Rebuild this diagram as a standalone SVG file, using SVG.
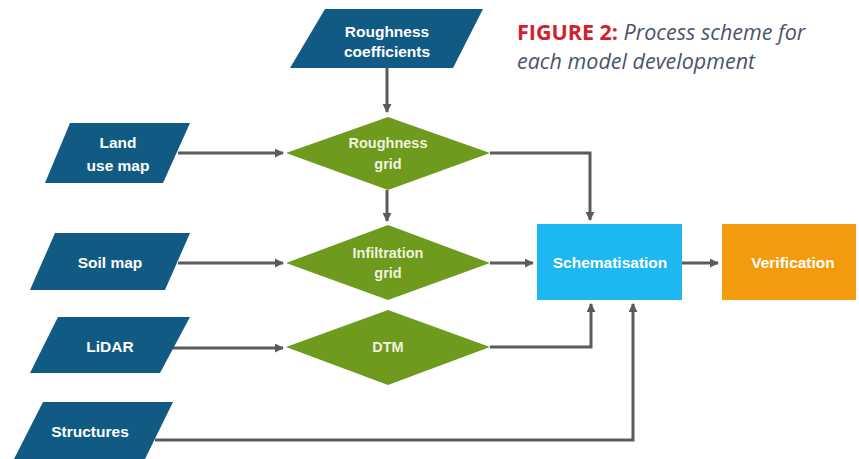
<svg xmlns="http://www.w3.org/2000/svg" width="859" height="459" viewBox="0 0 859 459">
<defs>
<marker id="ah" viewBox="0 0 10 10" refX="9" refY="5" markerWidth="3" markerHeight="3" orient="auto" markerUnits="strokeWidth">
<path d="M0,0 L10,5 L0,10 z" fill="#5b5b5b"/>
</marker>
<style>
.io{fill:#115a84}
.dec{fill:#6e9a1e}
.lbl{font-family:"Liberation Sans",Arial,sans-serif;font-weight:bold;font-size:15.5px;fill:#ffffff;text-anchor:middle}
.dl{font-family:"Liberation Sans",Arial,sans-serif;font-weight:bold;font-size:14.5px;fill:#eef3dc;text-anchor:middle}
.con{fill:none;stroke:#5b5b5b;stroke-width:3;marker-end:url(#ah)}
.cap{font-family:"Open Sans","Noto Sans",sans-serif;font-size:21.5px}
</style>
</defs>
<rect width="859" height="459" fill="#ffffff"/>
<g id="caption">
<text class="cap" x="517" y="40"><tspan fill="#d0222e" font-weight="bold">FIGURE 2:</tspan><tspan fill="#4a5568" font-style="italic"> Process scheme for</tspan></text>
<text class="cap" x="517" y="69" fill="#4a5568" font-style="italic">each model development</text>
</g>
<g id="connectors">
<path class="con" d="M387,68 V112"/>
<path class="con" d="M178,153 H283"/>
<path class="con" d="M387,190 V221"/>
<path class="con" d="M490,153 H590 V220"/>
<path class="con" d="M178,263 H283"/>
<path class="con" d="M490,263 H533"/>
<path class="con" d="M682,263 H718"/>
<path class="con" d="M173,348 H283"/>
<path class="con" d="M490,347 H591 V304"/>
<path class="con" d="M155,440 H633 V304"/>
</g>
<g id="roughness-coefficients">
<polygon class="io" points="325,9 483,9 453,68 290,68"/>
<text class="lbl" x="387" y="37">Roughness</text>
<text class="lbl" x="387" y="57">coefficients</text>
</g>
<g id="land-use-map">
<polygon class="io" points="70,123 190,123 163,183 45,183"/>
<text class="lbl" x="118" y="148">Land</text>
<text class="lbl" x="118" y="171">use map</text>
</g>
<g id="soil-map">
<polygon class="io" points="55,233 190,233 165,290 30,290"/>
<text class="lbl" x="110" y="268">Soil map</text>
</g>
<g id="lidar">
<polygon class="io" points="58,317 190,317 160,373 30,373"/>
<text class="lbl" x="110" y="352">LiDAR</text>
</g>
<g id="structures">
<polygon class="io" points="43,402 173,402 145,459 14,459"/>
<text class="lbl" x="90" y="437">Structures</text>
</g>
<g id="roughness-grid">
<polygon class="dec" points="388,117 490,153 388,190 286,153"/>
<text class="dl" x="388" y="148">Roughness</text>
<text class="dl" x="388" y="169">grid</text>
</g>
<g id="infiltration-grid">
<polygon class="dec" points="388,225 490,263 388,300 286,263"/>
<text class="dl" x="388" y="258">Infiltration</text>
<text class="dl" x="388" y="278">grid</text>
</g>
<g id="dtm">
<polygon class="dec" points="388,310 490,347 388,385 286,347"/>
<text class="dl" x="388" y="352">DTM</text>
</g>
<g id="schematisation">
<rect x="537" y="224" width="145" height="76" fill="#1db7f1"/>
<text class="lbl" x="610" y="268">Schematisation</text>
</g>
<g id="verification">
<rect x="722" y="224" width="134" height="76" fill="#f39a0d"/>
<text class="lbl" x="793" y="268" fill="#fbeacc">Verification</text>
</g>
</svg>
